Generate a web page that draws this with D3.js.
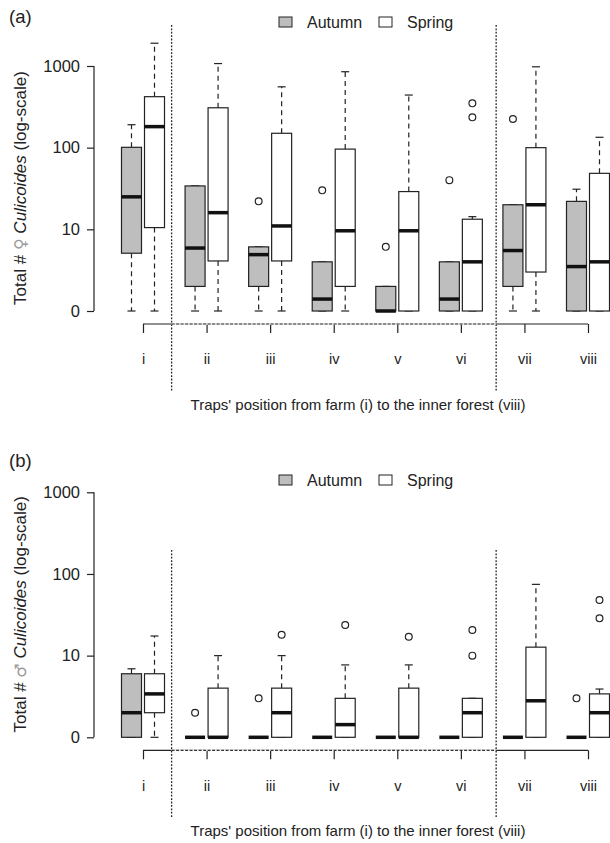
<!DOCTYPE html>
<html lang="en">
<head>
<meta charset="UTF-8">
<title>Culicoides boxplots</title>
<script src="https://d3js.org/d3.v7.min.js"></script>
<style>
  body { margin: 0; background: #fff; }
  svg text { font-family: "Liberation Sans", Arial, sans-serif; fill: #222; }
</style>
</head>
<body>
<svg id="chart" width="610" height="843"></svg>
<script>
// trap positions (categories)
const positions = ["i", "ii", "iii", "iv", "v", "vi", "vii", "viii"];
const seasons = ["Autumn", "Spring"];
const tickValues = [0, 10, 100, 1000];

// box stats per position: [lower whisker, Q1, median, Q3, upper whisker]
const femaleAutumn = [
  [0, 4.1, 24, 100, 190],
  [0, 1, 4.9, 33, 33],
  [0, 1, 3.9, 5.1, 5.1],
  [0, 0, 0.4, 3, 3],
  [0, 0, 0, 1, 1],
  [0, 0, 0.4, 3, 3],
  [0, 1, 4.5, 19, 19],
  [0, 0, 2.5, 21, 30]
];
const femaleAutumnOut = [[], [], [21], [29], [5.1], [39], [223], []];
const femaleSpring = [
  [0, 9.5, 180, 420, 1900],
  [0, 3.1, 15, 307, 1070],
  [0, 3.1, 10, 149, 555],
  [0, 1, 8.6, 95, 850],
  [0, 0, 8.6, 28, 440],
  [0, 0, 3, 12.3, 13.3],
  [0, 2, 19, 99, 977],
  [0, 0, 3, 47.5, 133]
];
const femaleSpringOut = [[], [], [], [], [], [348, 234], [], []];

const maleAutumn = [
  [0, 0, 1, 5, 5.9],
  [0, 0, 0, 0, 0],
  [0, 0, 0, 0, 0],
  [0, 0, 0, 0, 0],
  [0, 0, 0, 0, 0],
  [0, 0, 0, 0, 0],
  [0, 0, 0, 0, 0],
  [0, 0, 0, 0, 0]
];
const maleAutumnOut = [[], [1], [2], [], [], [], [], [2]];
const maleSpring = [
  [0, 1, 2.4, 5, 16.4],
  [0, 0, 0, 3, 9],
  [0, 0, 1, 3, 9],
  [0, 0, 0.43, 2, 6.7],
  [0, 0, 0, 3, 6.7],
  [0, 0, 1, 2, 2],
  [0, 0, 1.8, 11.7, 73.6],
  [0, 0, 1, 2.4, 2.9]
];
const maleSpringOut = [[], [], [17], [22.7], [16], [19.6, 9], [], [27.6, 46.9]];

const svg = d3.select("#chart");
const fills = { Autumn: "#bebebe", Spring: "#ffffff" };

const x = d3.scalePoint().domain(positions).range([143, 588]);
const step = x.step();
const boxW = 20;
const offset = { Autumn: -11.5, Spring: 11.5 };

// log10(n + 1) transform, labels placed on decades
const tr = v => Math.log10(v + 1);

function drawPanel(opts) {
  const { top, tag, tagY, legendY, sepTop, symbol, autumn, autumnOut, spring, springOut } = opts;
  const y = d3.scaleLinear().domain([0, 3]).range([top + 245, top]);
  const g = svg.append("g");
  const axisY = top + 258;

  // panel tag
  g.append("text").attr("x", 9).attr("y", tagY).attr("font-size", 18.5).text(tag);

  // legend
  const leg = g.append("g").attr("transform", `translate(279,${legendY})`);
  seasons.forEach((s, i) => {
    const lx = i * 100;
    leg.append("rect").attr("x", lx).attr("y", -5).attr("width", 13).attr("height", 10)
      .attr("fill", fills[s]).attr("stroke", "#222").attr("stroke-width", 1);
    leg.append("text").attr("x", lx + 28).attr("y", 5.5).attr("font-size", 16).text(s);
  });

  // y axis
  const yAxis = d3.axisLeft(y).tickValues(tickValues.map(tr).map(Math.round))
    .tickFormat((d, i) => tickValues[i]).tickSize(7).tickPadding(7);
  const ya = g.append("g").attr("transform", "translate(94,0)").call(yAxis);
  ya.select(".domain").attr("stroke", "#222").attr("stroke-width", 1.2).attr("d", `M0,${y(0)}V${y(3)}`);
  ya.selectAll(".tick line").attr("stroke", "#222").attr("stroke-width", 1.2);
  ya.selectAll(".tick text").attr("font-size", 16.5).attr("fill", "#222");

  // y label
  const lab = g.append("text")
    .attr("transform", `translate(26,${top + 122}) rotate(-90)`)
    .attr("text-anchor", "middle").attr("font-size", 17);
  lab.append("tspan").text("Total # ");
  lab.append("tspan").style("fill", "#9a9a9a").style("font-family", "DejaVu Sans")
    .attr("font-size", 16).text(symbol);
  lab.append("tspan").text(" ");
  lab.append("tspan").attr("font-style", "italic").text("Culicoides");
  lab.append("tspan").text(" (log-scale)");

  // x axis
  const xAxis = d3.axisBottom(x).tickSize(9).tickPadding(21);
  const xa = g.append("g").attr("transform", `translate(0,${axisY})`).call(xAxis);
  xa.select(".domain").attr("stroke", "#222").attr("stroke-width", 1.2).attr("d", `M${x("i")},0H${x("viii")}`);
  xa.selectAll(".tick line").attr("stroke", "#222").attr("stroke-width", 1.2);
  xa.selectAll(".tick text").attr("font-size", 14.5).attr("fill", "#333");

  g.append("text").attr("x", 358).attr("y", axisY + 86).attr("text-anchor", "middle")
    .attr("font-size", 15).text("Traps' position from farm (i) to the inner forest (viii)");

  // zone separators
  const sepA = x("i") + step * 0.45;
  const sepB = x("vii") - step * 0.445;
  [sepA, sepB].forEach(sx => {
    g.append("line").attr("x1", sx).attr("x2", sx)
      .attr("y1", sepTop).attr("y2", axisY + 68)
      .attr("stroke", "#222").attr("stroke-width", 1.3).attr("stroke-dasharray", "1.8,1.6");
  });
  g.append("line").attr("x1", sepA).attr("x2", sepB).attr("y1", axisY).attr("y2", axisY)
    .attr("stroke", "#fff").attr("stroke-width", 1.6);
  g.append("line").attr("x1", sepA).attr("x2", sepB).attr("y1", axisY).attr("y2", axisY)
    .attr("stroke", "#333").attr("stroke-width", 1.2).attr("stroke-dasharray", "3,1.5");

  // boxes
  const series = [
    { s: "Autumn", stats: autumn, out: autumnOut },
    { s: "Spring", stats: spring, out: springOut }
  ];
  series.forEach(({ s, stats, out }) => {
    stats.forEach((st, i) => {
      const cx = x(positions[i]) + offset[s];
      const [lo, q1, med, q3, hi] = st.map(tr);
      const bg = g.append("g");
      // whiskers
      bg.append("line").attr("x1", cx).attr("x2", cx).attr("y1", y(q3)).attr("y2", y(hi))
        .attr("stroke", "#222").attr("stroke-width", 1.2).attr("stroke-dasharray", "5,4");
      bg.append("line").attr("x1", cx).attr("x2", cx).attr("y1", y(q1)).attr("y2", y(lo))
        .attr("stroke", "#222").attr("stroke-width", 1.2).attr("stroke-dasharray", "5,4");
      [hi, lo].forEach(v => {
        bg.append("line").attr("x1", cx - 4).attr("x2", cx + 4).attr("y1", y(v)).attr("y2", y(v))
          .attr("stroke", "#222").attr("stroke-width", 1.2);
      });
      bg.append("rect").attr("x", cx - boxW / 2).attr("width", boxW)
        .attr("y", y(q3)).attr("height", Math.max(0, y(q1) - y(q3)))
        .attr("fill", fills[s]).attr("stroke", "#222").attr("stroke-width", 1.2);
      bg.append("line").attr("x1", cx - boxW / 2).attr("x2", cx + boxW / 2)
        .attr("y1", y(med)).attr("y2", y(med))
        .attr("stroke", "#111").attr("stroke-width", 3.5);
      out[i].forEach(v => {
        bg.append("circle").attr("cx", cx).attr("cy", y(tr(v))).attr("r", 3.4)
          .attr("fill", "none").attr("stroke", "#222").attr("stroke-width", 1.2);
      });
    });
  });
}

drawPanel({ top: 66, tag: "(a)", tagY: 23, legendY: 22, sepTop: 25, symbol: "\u2640",
  autumn: femaleAutumn, autumnOut: femaleAutumnOut, spring: femaleSpring, springOut: femaleSpringOut });
drawPanel({ top: 492.3, tag: "(b)", tagY: 467, legendY: 480, sepTop: 550, symbol: "\u2642",
  autumn: maleAutumn, autumnOut: maleAutumnOut, spring: maleSpring, springOut: maleSpringOut });
</script>
</body>
</html>
